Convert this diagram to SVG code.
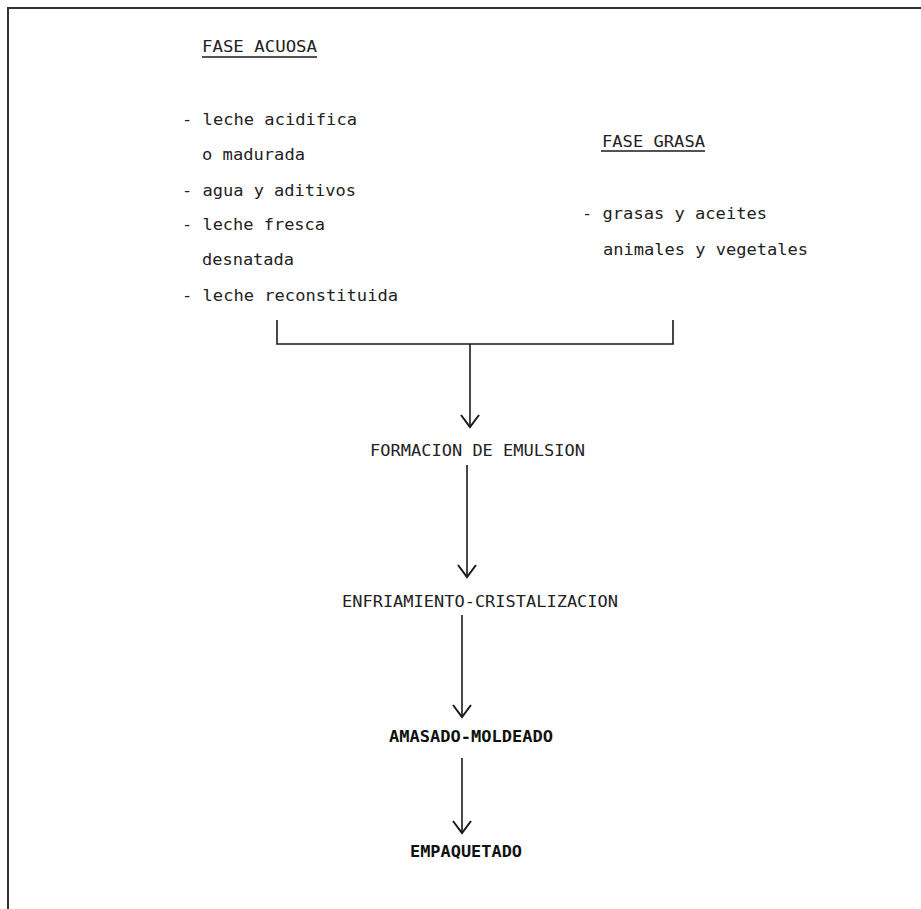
<svg xmlns="http://www.w3.org/2000/svg" width="921" height="909" viewBox="0 0 921 909">
  <style>
    .t { font-family: "DejaVu Sans Mono", "Liberation Mono", monospace; font-size: 16px; fill: #222; }
    .h { font-family: "DejaVu Sans Mono", "Liberation Mono", monospace; font-size: 15px; fill: #222; }
    .b { font-family: "DejaVu Sans Mono", "Liberation Mono", monospace; font-size: 15px; fill: #111; font-weight: bold; }
    .ln { stroke: #1a1a1a; stroke-width: 1.6; fill: none; }
    .frame { stroke: #333; stroke-width: 2; fill: none; }
  </style>
  <defs>
    <marker id="v" markerUnits="userSpaceOnUse" markerWidth="16" markerHeight="22" viewBox="-13 -11 15 22" refX="0" refY="0" orient="auto">
      <path d="M-12,-9 L0,0 L-12,9" fill="none" stroke="#1a1a1a" stroke-width="2"/>
    </marker>
  </defs>
  <rect width="921" height="909" fill="#ffffff"/>
  <path class="frame" d="M8,909 V8 H921"/>

  <g id="fase-acuosa">
    <text class="h" x="202" y="52" textLength="115" lengthAdjust="spacingAndGlyphs">FASE ACUOSA</text>
    <line class="ln" x1="202" y1="57" x2="317" y2="57"/>
    <text class="t" x="182" y="125" textLength="175" lengthAdjust="spacingAndGlyphs">- leche acidifica</text>
    <text class="t" x="202" y="160" textLength="103" lengthAdjust="spacingAndGlyphs">o madurada</text>
    <text class="t" x="182" y="196" textLength="174" lengthAdjust="spacingAndGlyphs">- agua y aditivos</text>
    <text class="t" x="182" y="230" textLength="143" lengthAdjust="spacingAndGlyphs">- leche fresca</text>
    <text class="t" x="202" y="265" textLength="92" lengthAdjust="spacingAndGlyphs">desnatada</text>
    <text class="t" x="182" y="301" textLength="216" lengthAdjust="spacingAndGlyphs">- leche reconstituida</text>
  </g>

  <g id="fase-grasa">
    <text class="h" x="602" y="147" textLength="103" lengthAdjust="spacingAndGlyphs">FASE GRASA</text>
    <line class="ln" x1="601" y1="151" x2="705" y2="151"/>
    <text class="t" x="582" y="219" textLength="185" lengthAdjust="spacingAndGlyphs">- grasas y aceites</text>
    <text class="t" x="603" y="255" textLength="205" lengthAdjust="spacingAndGlyphs">animales y vegetales</text>
  </g>

  <g id="formacion">
    <text class="h" x="370" y="456" textLength="215" lengthAdjust="spacingAndGlyphs">FORMACION DE EMULSION</text>
  </g>
  <g id="enfriamiento">
    <text class="h" x="342" y="607" textLength="276" lengthAdjust="spacingAndGlyphs">ENFRIAMIENTO-CRISTALIZACION</text>
  </g>
  <g id="amasado">
    <text class="b" x="389" y="742" textLength="164" lengthAdjust="spacingAndGlyphs">AMASADO-MOLDEADO</text>
  </g>
  <g id="empaquetado">
    <text class="b" x="410" y="857" textLength="112" lengthAdjust="spacingAndGlyphs">EMPAQUETADO</text>
  </g>

  <g id="connectors">
    <path class="ln" d="M277,320 V344 H673 V320"/>
    <path class="ln" d="M470,344 V427" marker-end="url(#v)"/>
    <path class="ln" d="M467,465 V577" marker-end="url(#v)"/>
    <path class="ln" d="M462,615 V717" marker-end="url(#v)"/>
    <path class="ln" d="M462,758 V833" marker-end="url(#v)"/>
  </g>
</svg>
